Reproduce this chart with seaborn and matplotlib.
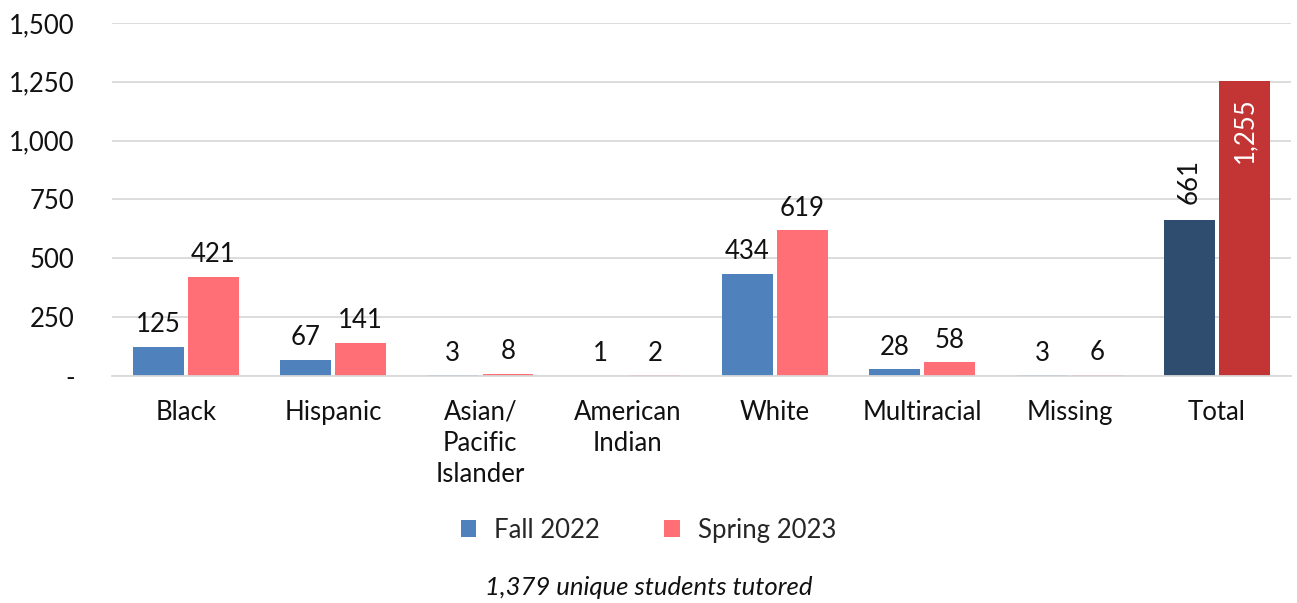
import matplotlib
matplotlib.use("Agg")
import matplotlib.pyplot as plt
import seaborn as sns
import pandas as pd

categories = ["Black", "Hispanic", "Asian/\nPacific\nIslander", "American\nIndian",
              "White", "Multiracial", "Missing", "Total"]
fall_2022 = [125, 67, 3, 1, 434, 28, 3, 661]
spring_2023 = [421, 141, 8, 2, 619, 58, 6, 1255]
series_names = ["Fall 2022", "Spring 2023"]
yticks = [0, 250, 500, 750, 1000, 1250, 1500]
ytick_labels = ["-", "250", "500", "750", "1,000", "1,250", "1,500"]
caption = "1,379 unique students tutored"

sns.set_theme(style="white")
plt.rcParams['font.family'] = ['Lato', 'DejaVu Sans']
FS = 18.5

df = pd.DataFrame({
    "cat": categories * 2,
    "val": fall_2022 + spring_2023,
    "series": [series_names[0]] * len(categories) + [series_names[1]] * len(categories),
})

fig = plt.figure(figsize=(12.97, 6.03), dpi=100)
ax = fig.add_axes([0.0864, 0.3765, 0.9086, 0.5854])

palette = {"Fall 2022": "#4F81BD", "Spring 2023": "#FF6F75"}
sns.barplot(data=df, x="cat", y="val", hue="series", palette=palette, ax=ax,
            width=0.75, gap=0.08, saturation=1, legend=False, order=categories,
            hue_order=series_names, linewidth=0, edgecolor="none")

ax.set_ylim(0, 1500)
ax.set_xlim(-0.5, len(categories) - 0.5)
ax.set_yticks(yticks)
ax.set_yticklabels(ytick_labels, fontsize=FS, color="#111111")
ax.tick_params(axis="y", length=0, pad=27)
ax.tick_params(axis="x", length=0, pad=17, labelsize=FS, labelcolor="#111111")
for lab in ax.get_xticklabels():
    lab.set_verticalalignment("top")
    lab.set_linespacing(1.32)
ax.set_xlabel("")
ax.set_ylabel("")
ax.yaxis.grid(True, color="#D9D9D9", linewidth=1.3)
ax.set_axisbelow(True)
for s in ["top", "right", "left"]:
    ax.spines[s].set_visible(False)
ax.spines["bottom"].set_color("#D9D9D9")
ax.spines["bottom"].set_linewidth(1.3)

# recolor Total bars and add labels
containers = ax.containers
for si, cont in enumerate(containers):
    vals = fall_2022 if si == 0 else spring_2023
    for i, patch in enumerate(cont.patches):
        x = patch.get_x() + patch.get_width() / 2
        h = patch.get_height()
        v = vals[i]
        if categories[i] == "Total":
            patch.set_facecolor("#2F4D6E" if si == 0 else "#C33434")
            if si == 0:
                ax.annotate(f"{v:,}", (x, h), xytext=(0, 12), textcoords="offset points",
                            rotation=90, ha="center", va="bottom", fontsize=FS, color="#111111")
            else:
                ax.annotate(f"{v:,}", (x, h), xytext=(0, -12), textcoords="offset points",
                            rotation=90, ha="center", va="top", fontsize=FS, color="white")
        else:
            ax.annotate(f"{v:,}", (x, h), xytext=(0, 7), textcoords="offset points",
                        ha="center", va="bottom", fontsize=FS, color="#111111")

from matplotlib.patches import Patch
handles = [Patch(facecolor=palette[n], edgecolor="none") for n in series_names]
fig.legend(handles, series_names, loc="center", bbox_to_anchor=(0.5, 0.121), ncol=2,
           frameon=False, fontsize=FS, handlelength=0.6, handleheight=0.6,
           columnspacing=2.5, handletextpad=0.7)

fig.text(0.5, 0.026, caption, ha="center", va="center", fontsize=FS, style="italic",
         color="#111111")

fig.savefig("out.png", dpi=100)
